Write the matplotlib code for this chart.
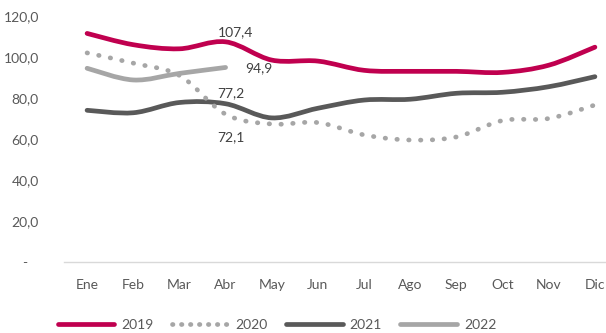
"""Indice mensual 2019-2022 (lineas suavizadas)"""
import matplotlib
matplotlib.use("Agg")
import matplotlib.pyplot as plt
from matplotlib.path import Path
from matplotlib.patches import PathPatch
from matplotlib.lines import Line2D
import numpy as np

plt.rcParams['font.family'] = ['Lato', 'DejaVu Sans']

# Datos
meses = ["Ene", "Feb", "Mar", "Abr", "May", "Jun", "Jul", "Ago", "Sep", "Oct", "Nov", "Dic"]
v2019 = [111.5, 106.0, 104.0, 107.4, 98.5, 98.0, 93.5, 93.0, 93.0, 92.5, 96.0, 104.8]
v2020 = [102.0, 97.0, 91.0, 72.1, 67.3, 68.0, 62.0, 59.5, 61.0, 69.0, 70.0, 76.6]
v2021 = [74.0, 72.8, 77.8, 77.2, 70.3, 75.0, 79.0, 79.4, 82.3, 82.8, 85.5, 90.4]
v2022 = [94.5, 88.8, 92.0, 94.9]

yticks = [0, 20, 40, 60, 80, 100, 120]
ylabels = ["-   ", "20,0", "40,0", "60,0", "80,0", "100,0", "120,0"]

rojo = "#C0004F"
gris_claro = "#A6A6A6"
gris_osc = "#595959"
texto = "#595959"
lw = 3.4
punteado = (0, (0.1, 2.4))


def curva_suave(ax, y, **kw):
    # curva tipo Excel (Catmull-Rom) dibujada como Bezier cubica
    x = np.arange(len(y), dtype=float)
    p = np.column_stack([x, np.asarray(y, dtype=float)])
    verts = [p[0]]
    codes = [Path.MOVETO]
    n = len(p)
    for i in range(n - 1):
        a = p[i - 1] if i > 0 else p[i]
        b = p[i + 2] if i + 2 < n else p[i + 1]
        c1 = p[i] + (p[i + 1] - a) / 6
        c2 = p[i + 1] - (b - p[i]) / 6
        verts += [c1, c2, p[i + 1]]
        codes += [Path.CURVE4] * 3
    ax.add_patch(PathPatch(Path(verts, codes), fill=False, capstyle="round", **kw))


fig = plt.figure(figsize=(6.06, 3.33), dpi=100)
ax = fig.add_axes([64 / 606, 1 - 262 / 333, 554 / 606, 246 / 333])

curva_suave(ax, v2021, color=gris_osc, lw=lw)
curva_suave(ax, v2020, color=gris_claro, lw=lw, linestyle=punteado)
curva_suave(ax, v2022, color=gris_claro, lw=lw)
curva_suave(ax, v2019, color=rojo, lw=lw)

ax.set_xlim(-0.5, len(meses) - 0.5)
ax.set_ylim(0, 120)
ax.set_xticks(range(len(meses)))
ax.set_xticklabels(meses)
ax.set_yticks(yticks)
ax.set_yticklabels(ylabels)
ax.tick_params(length=0, labelsize=10, colors=texto)
ax.tick_params(axis="y", pad=18)
ax.tick_params(axis="x", pad=12)
for s in ["top", "right", "left"]:
    ax.spines[s].set_visible(False)
ax.spines["bottom"].set_color("#D9D9D9")
ax.spines["bottom"].set_linewidth(1.0)

# Etiquetas de datos (Abr)
ab = 3
kw = dict(textcoords="offset pixels", fontsize=10, color="#404040", va="center")
ax.annotate("107,4", (ab, v2019[ab]), xytext=(10, 10), ha="center", **kw)
ax.annotate("94,9", (ab, v2022[ab]), xytext=(20, -1), ha="left", **kw)
ax.annotate("77,2", (ab, v2021[ab]), xytext=(5, 11), ha="center", **kw)
ax.annotate("72,1", (ab, v2020[ab]), xytext=(5, -23), ha="center", **kw)

handles = [
    Line2D([], [], color=rojo, lw=lw, solid_capstyle="round"),
    Line2D([], [], color=gris_claro, lw=lw, linestyle=(0, (0.1, 1.8)), dash_capstyle="round"),
    Line2D([], [], color=gris_osc, lw=lw, solid_capstyle="round"),
    Line2D([], [], color=gris_claro, lw=lw, solid_capstyle="round"),
]
fig.legend(handles, ["2019", "2020", "2021", "2022"], loc="center",
           bbox_to_anchor=(277 / 606, 1 - 325 / 333), ncol=4, frameon=False,
           fontsize=10, handlelength=4.1, handletextpad=0.5, columnspacing=1.3,
           labelcolor=texto)

fig.savefig("out.png", dpi=100)
